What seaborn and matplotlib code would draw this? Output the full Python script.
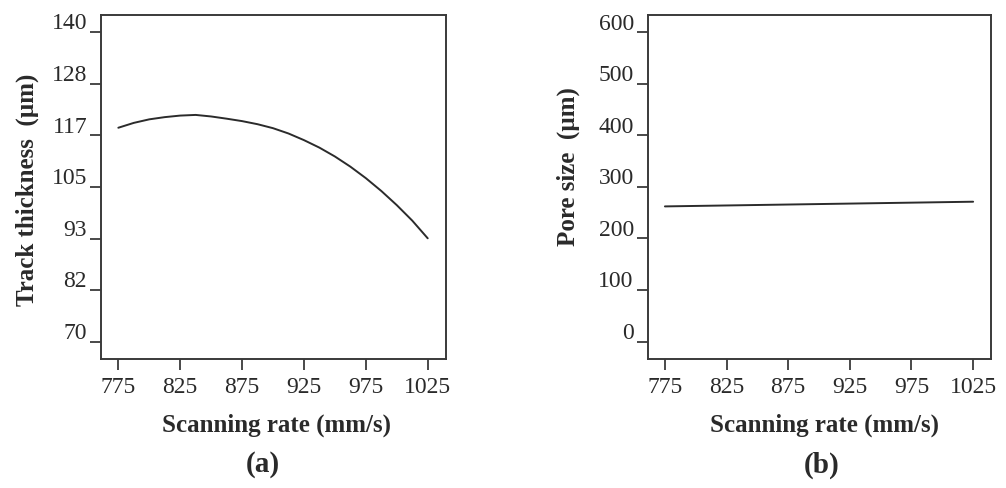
import matplotlib
matplotlib.use("Agg")
import matplotlib.pyplot as plt
import matplotlib.transforms as mtransforms
import seaborn as sns
import numpy as np

# ---- data ----
scan_rate_a = [775, 787.5, 800, 812.5, 825, 837.5, 850, 862.5, 875, 887.5, 900,
               912.5, 925, 937.5, 950, 962.5, 975, 987.5, 1000, 1012.5, 1025]
track_thickness = [118.4, 119.5, 120.3, 120.8, 121.15, 121.3, 120.95, 120.45, 119.9, 119.2, 118.3,
                   117.1, 115.6, 113.9, 111.9, 109.6, 107.0, 104.1, 100.9, 97.4, 93.4]

scan_rate_b = [775, 1025]
pore_size = [262.2, 271.3]

x_ticks = [775, 825, 875, 925, 975, 1025]
yticks_a = list(np.linspace(70, 140, 7))
yticklabels_a = ["70", "82", "93", "105", "117", "128", "140"]
yticks_b = [0, 100, 200, 300, 400, 500, 600]
yticklabels_b = ["0", "100", "200", "300", "400", "500", "600"]

sns.set_style("ticks")
plt.rcParams["font.family"] = ["Liberation Serif", "DejaVu Serif"]

fig = plt.figure(figsize=(10.06, 4.88), dpi=100)
ax_a = fig.add_axes([0.1004, 0.2643, 0.3426, 0.705])
ax_b = fig.add_axes([0.6438, 0.2643, 0.3413, 0.705])

spine_col = "#3a3a3a"
text_col = "#2a2a2a"
line_col = "#2b2b2b"

sns.lineplot(x=scan_rate_a, y=track_thickness, ax=ax_a, color=line_col, linewidth=1.4)
sns.lineplot(x=scan_rate_b, y=pore_size, ax=ax_b, color=line_col, linewidth=1.4)

def style(ax, yticks, ylabels, ylim):
    ax.set_xlim(761, 1039.5)
    ax.set_ylim(*ylim)
    ax.set_xticks(x_ticks)
    ax.set_xticklabels([str(v) for v in x_ticks])
    ax.set_yticks(yticks)
    ax.set_yticklabels(ylabels)
    for s in ax.spines.values():
        s.set_visible(True)
        s.set_color(spine_col)
        s.set_linewidth(1.4)
    ax.tick_params(axis="both", direction="out", length=8, width=1.3,
                   color=spine_col, labelsize=17, labelcolor=text_col)
    ax.tick_params(axis="x", pad=5)
    ax.tick_params(axis="y", pad=2)
    ax.set_xlabel("")
    ax.set_ylabel("")
    for lab in ax.get_yticklabels():
        lab.set_va("baseline")
        lab.set_transform(lab.get_transform() + mtransforms.ScaledTranslation(0, 2 / 72, fig.dpi_scale_trans))

style(ax_a, yticks_a, yticklabels_a, (66.1, 143.9))
style(ax_b, yticks_b, yticklabels_b, (-34, 633.7))

W, H = 1006, 488
def ftext(px, py, s, **kw):
    fig.text(px / W, 1 - py / H, s, ha="center", va="center", color=text_col, **kw)

ftext(27, 190, "Track thickness  (µm)", fontsize=18, fontweight="bold", rotation=90)
ftext(276, 425, "Scanning rate (mm/s)", fontsize=18, fontweight="bold")
ftext(263, 465, "(a)", fontsize=21, fontweight="bold")

ftext(568, 167, "Pore size  (µm)", fontsize=18, fontweight="bold", rotation=90)
ftext(824, 425, "Scanning rate (mm/s)", fontsize=18, fontweight="bold")
ftext(822, 465, "(b)", fontsize=21, fontweight="bold")

fig.savefig("out.png", dpi=100)
